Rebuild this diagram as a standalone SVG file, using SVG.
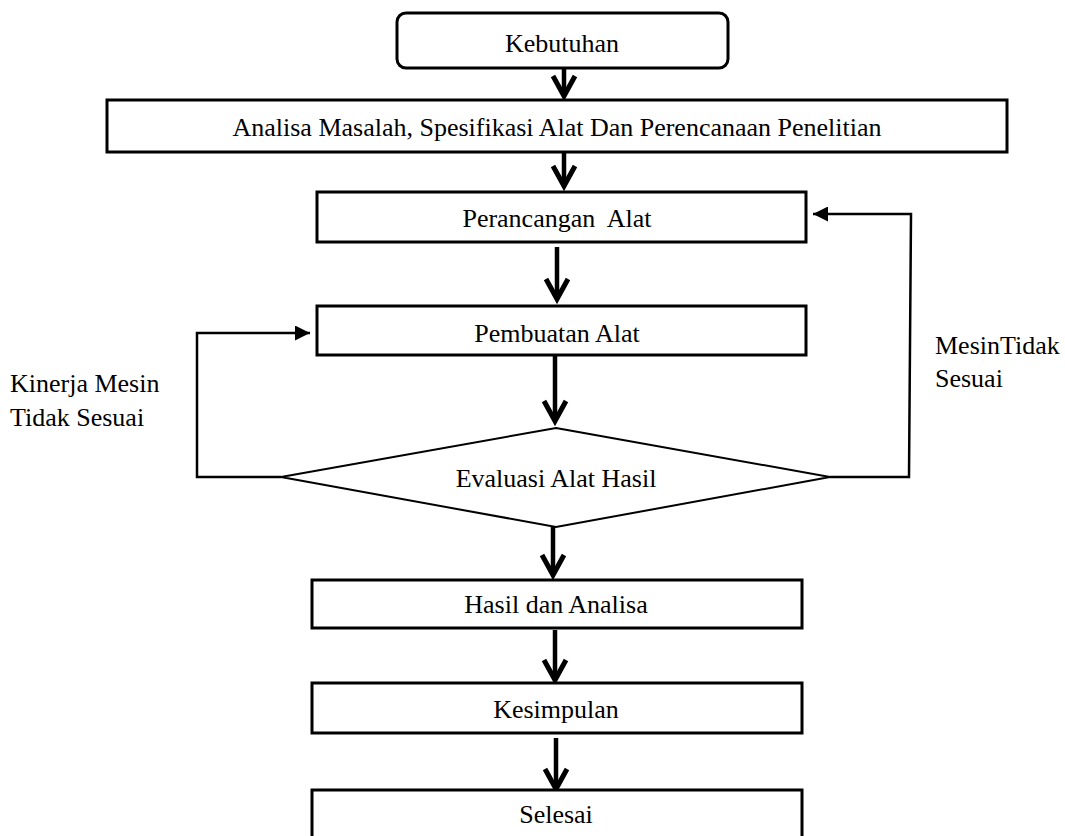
<svg xmlns="http://www.w3.org/2000/svg" width="1065" height="836" viewBox="0 0 1065 836">
<style>
.box{fill:#fff;stroke:#000;stroke-width:3}
.dia{fill:#fff;stroke:#000;stroke-width:2}
.t{font-family:"Liberation Serif","Times New Roman",serif;font-size:26px;fill:#000}
.c{text-anchor:middle}
.main{fill:none;stroke:#000;stroke-width:4.5}
.head{fill:none;stroke:#000;stroke-width:5;stroke-linejoin:miter;stroke-linecap:butt}
.fb{fill:none;stroke:#000;stroke-width:2.5}
</style>
<defs>
<marker id="tri" viewBox="0 0 10 10" refX="10" refY="5" markerWidth="15" markerHeight="15" markerUnits="userSpaceOnUse" orient="auto">
<path d="M0,0 L10,5 L0,10 Z" fill="#000"/>
</marker>
</defs>
<rect width="1065" height="836" fill="#fff"/>
<g id="connectors">
<line class="main" x1="564" y1="68" x2="564" y2="96"/>
<polyline class="head" points="553,76 564,96 575,76"/>
<line class="main" x1="564" y1="152" x2="564" y2="186"/>
<polyline class="head" points="553,166 564,186 575,166"/>
<line class="main" x1="557" y1="247" x2="557" y2="299"/>
<polyline class="head" points="546,279 557,299 568,279"/>
<line class="main" x1="555" y1="355" x2="555" y2="421"/>
<polyline class="head" points="544,401 555,421 566,401"/>
<line class="main" x1="553" y1="522" x2="553" y2="575"/>
<polyline class="head" points="542,555 553,575 564,555"/>
<line class="main" x1="555" y1="630" x2="555" y2="680"/>
<polyline class="head" points="544,660 555,680 566,660"/>
<line class="main" x1="556" y1="738" x2="556" y2="789"/>
<polyline class="head" points="545,769 556,789 567,769"/>
<polyline class="fb" points="281,477 197,477 197,333 310,333" marker-end="url(#tri)"/>
<polyline class="fb" points="830,477 909,477 911,214 813,214" marker-end="url(#tri)"/>
</g>
<g id="n-kebutuhan">
<rect class="box" x="397" y="13" width="331" height="55" rx="9"/>
<text class="t c" x="562" y="52">Kebutuhan</text>
</g>
<g id="n-analisa">
<rect class="box" x="107" y="100" width="900" height="52"/>
<text class="t c" x="557" y="136">Analisa Masalah, Spesifikasi Alat Dan Perencanaan Penelitian</text>
</g>
<g id="n-perancangan">
<rect class="box" x="317" y="192" width="489" height="50"/>
<text class="t c" x="557" y="227" xml:space="preserve">Perancangan  Alat</text>
</g>
<g id="n-pembuatan">
<rect class="box" x="317" y="306" width="489" height="49"/>
<text class="t c" x="557" y="342">Pembuatan Alat</text>
</g>
<g id="n-evaluasi">
<polygon class="dia" points="556,428 830,477 556,527 281,477"/>
<text class="t c" x="556" y="487">Evaluasi Alat Hasil</text>
</g>
<g id="n-hasil">
<rect class="box" x="312" y="580" width="490" height="48"/>
<text class="t c" x="556" y="613">Hasil dan Analisa</text>
</g>
<g id="n-kesimpulan">
<rect class="box" x="312" y="683" width="490" height="50"/>
<text class="t c" x="556" y="718">Kesimpulan</text>
</g>
<g id="n-selesai">
<rect class="box" x="312" y="790" width="490" height="60"/>
<text class="t c" x="556" y="823">Selesai</text>
</g>
<g id="labels">
<text class="t" x="10" y="392">Kinerja Mesin</text>
<text class="t" x="10" y="426">Tidak Sesuai</text>
<text class="t" x="935" y="354">MesinTidak</text>
<text class="t" x="935" y="387">Sesuai</text>
</g>
</svg>
